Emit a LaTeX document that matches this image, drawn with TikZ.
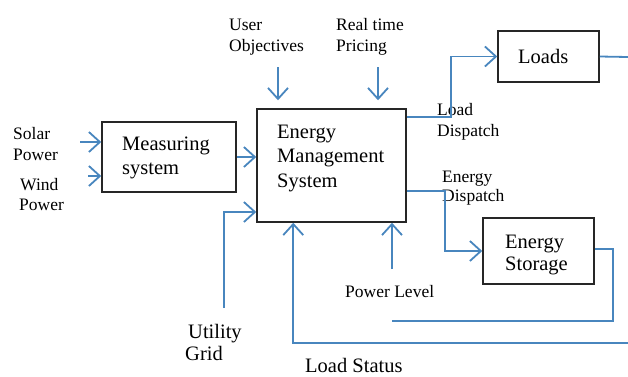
\documentclass[tikz,border=0pt]{standalone}
\usepackage{fontspec}
\setmainfont{Liberation Serif}
\usetikzlibrary{arrows.meta}
\definecolor{flow}{RGB}{72,134,190}
\newcommand\stk[1]{\begin{tabular}[t]{@{}l@{}}#1\end{tabular}}
\begin{document}
\begin{tikzpicture}[x=1pt,y=-1pt,
  box/.style={draw=black!85,line width=1.5pt,inner sep=0pt,fill=white},
  small/.style={inner sep=0pt,anchor=base west,font=\fontsize{17.5}{21.5}\selectfont},
  big/.style={inner sep=0pt,anchor=base west,font=\fontsize{20.5}{24.5}\selectfont},
  wire/.style={draw=flow,line width=1.8pt},
  arr/.style={wire,-{Straight Barb[length=11pt,width=20pt]}}]
\useasboundingbox (0,0) rectangle (628,376);

% boxes
\node[box,minimum width=134pt,minimum height=70pt] (ms) at (169,157) {};
\node[box,minimum width=149pt,minimum height=113pt] (ems) at (331.5,165.5) {};
\node[box,minimum width=101pt,minimum height=51pt] (ld) at (548.5,56.5) {};
\node[box,minimum width=111pt,minimum height=66pt] (st) at (538.5,251) {};

% box texts
\node[big] (msT) at (122,150) {\stk{Measuring\\system}};
\node[big,font=\fontsize{20.5}{24.5}\selectfont] (emsT) at (277,138) {\stk{Energy\\Management\\System}};
\node[big] (ldT) at (518,63) {Loads};
\node[big,font=\fontsize{20.5}{22}\selectfont] (stT) at (505,248) {\stk{Energy\\Storage}};

% outside labels
\node[small] (solT) at (13,139) {\stk{Solar\\Power}};
\node[small,font=\fontsize{17.5}{20}\selectfont] (winT) at (19,190) {\stk{\hspace{1pt}Wind\\Power}};
\node[small] (uoT) at (229,30) {\stk{User\\Objectives}};
\node[small] (rtT) at (336,30) {\stk{Real time\\Pricing}};
\node[small,font=\fontsize{17.5}{21}\selectfont] (ldpT) at (437,115) {\stk{Load\\Dispatch}};
\node[small,font=\fontsize{17.5}{19.5}\selectfont] (edpT) at (442,182) {\stk{Energy\\Dispatch}};
\node[small] (plT) at (345,297) {Power Level};
\node[big,font=\fontsize{20.5}{22}\selectfont] (ugT) at (185,338) {\stk{\hspace{3pt}Utility\\Grid}};
\node[big] (lsT) at (305,372.5) {Load Status};

% free ends of the connectors
\coordinate (so) at (80,142);
\coordinate (wi) at (88,176);
\coordinate (uo) at (278,67);
\coordinate (rt) at (378,67);
\coordinate (ug) at (224,308);
\coordinate (pl) at (392,269);
\coordinate (ls) at (628,343);
\coordinate (lo) at (628,57);
\coordinate (sr) at (613,249);
\coordinate (sb) at (392,321);

% inputs
\draw[arr] (so) -- (ms.west |- so);
\draw[arr] (wi) -- (ms.west |- wi);
\draw[arr] (ms.east) -- (ems.west |- ms.east);
\draw[arr,shorten >=8pt] (uo) -- (uo |- ems.north);
\draw[arr,shorten >=8pt] (rt) -- (rt |- ems.north);
\draw[arr] (ug) |- (ems.west |- 0,212);
\draw[arr] (pl) -- (pl |- ems.south);
\draw[arr] (ls) -| ([xshift=37pt]ems.south west);

% dispatch outputs
\draw[arr] (ems.east |- 0,117) -- (451,117) |- (ld.west);
\draw[arr] (ems.east |- 0,191) -- (445,191) |- (st.west);
\draw[wire] (ld.east) -- (lo);
\draw[wire] (st.east |- sr) -- (sr) |- (sb);
\end{tikzpicture}
\end{document}
